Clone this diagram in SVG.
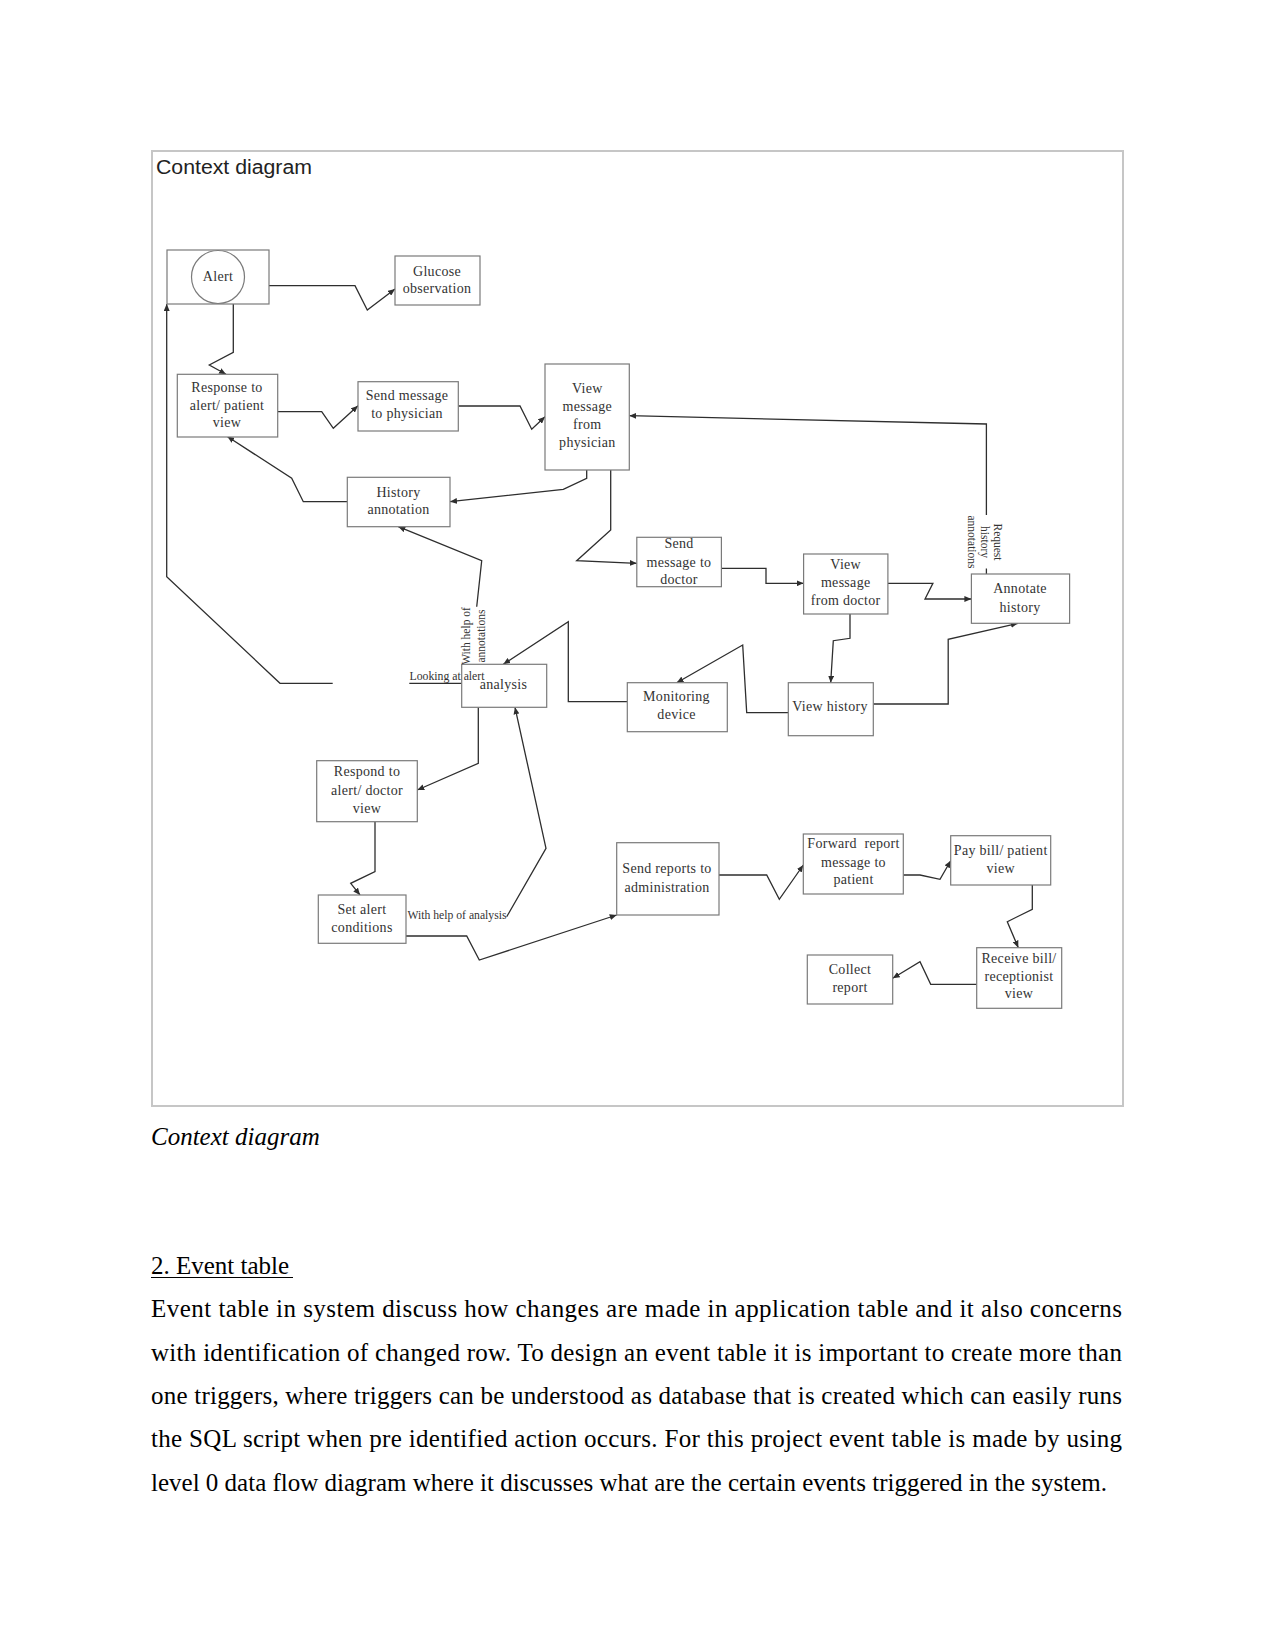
<svg xmlns="http://www.w3.org/2000/svg" width="1275" height="1650" viewBox="0 0 1275 1650">
<style>
.box{fill:#fff;stroke:#7a7a7a;stroke-width:1.2}
.c{fill:none;stroke:#2e2e2e;stroke-width:1.3}
.n{font-family:"Liberation Serif",serif;font-size:14px;letter-spacing:0.3px;fill:#333;text-anchor:middle}
.l{font-family:"Liberation Serif",serif;font-size:11.5px;fill:#333}
.b{font-family:"Liberation Serif",serif;font-size:25px;fill:#000}
</style>
<defs>
<marker id="ah" markerUnits="userSpaceOnUse" markerWidth="8" markerHeight="6" refX="7" refY="3" orient="auto">
<path d="M0,0 L7,3 L0,6 z" fill="#2e2e2e"/>
</marker>
</defs>
<rect x="0" y="0" width="1275" height="1650" fill="#fff"/>
<rect x="152" y="151" width="971" height="955" fill="none" stroke="#c6c6c6" stroke-width="2"/>
<text x="156" y="174" font-family="'Liberation Sans',sans-serif" font-size="20" fill="#222" textLength="156" lengthAdjust="spacingAndGlyphs">Context diagram</text>

<g id="connectors">
<path class="c" d="M269,285.7 L355,285.7 L367.3,310 L395,289" marker-end="url(#ah)"/>
<path class="c" d="M233.3,304 L233.3,352.3 L209.3,365 L226,374.3" marker-end="url(#ah)"/>
<path class="c" d="M277.7,411.7 L321.7,411.7 L333.3,428.3 L358,405.7" marker-end="url(#ah)"/>
<path class="c" d="M458.3,406 L520,406 L531.7,429.3 L545,416.7" marker-end="url(#ah)"/>
<path class="c" d="M586.7,470 L586.7,478.3 L563.3,489.3 L450,501.7" marker-end="url(#ah)"/>
<path class="c" d="M347.3,501.7 L303.3,501.7 L291.7,478.3 L227.3,436.5" marker-end="url(#ah)"/>
<path class="c" d="M610.7,470 L610.7,530 L576.7,560.7 L636.8,563.3" marker-end="url(#ah)"/>
<path class="c" d="M721.4,568.3 L766,568.3 L766,583.3 L803.6,583.3" marker-end="url(#ah)"/>
<path class="c" d="M887.9,583.3 L932.9,583.3 L925,599 L971.4,599" marker-end="url(#ah)"/>
<path class="c" d="M986.4,574 L986.4,568.5"/>
<path class="c" d="M986.4,515 L986.4,424 L629.3,415.7" marker-end="url(#ah)"/>
<path class="c" d="M850,614 L850,638.3 L833.3,640.7 L830.7,682.7" marker-end="url(#ah)"/>
<path class="c" d="M873.3,704 L948.2,704 L948.2,639.3 L1017.9,623.3" marker-end="url(#ah)"/>
<path class="c" d="M788.3,712.7 L746.7,712.7 L742.7,645 L676.7,682.7" marker-end="url(#ah)"/>
<path class="c" d="M627.3,701.7 L568.3,701.7 L568.3,621.7 L503.3,664.3" marker-end="url(#ah)"/>
<path class="c" d="M476.7,606.7 L481.7,560.7 L398.3,526.7" marker-end="url(#ah)"/>
<path class="c" d="M461.7,683.3 L409.3,683.3"/>
<path class="c" d="M332.7,683.3 L280,683.3 L166.7,576.7 L166.7,304" marker-end="url(#ah)"/>
<path class="c" d="M478.3,707.3 L478.3,763.3 L417.3,790" marker-end="url(#ah)"/>
<path class="c" d="M375,821.7 L375,871.7 L350.7,883.3 L360,895" marker-end="url(#ah)"/>
<path class="c" d="M506.7,916.7 L546,848.3 L515,707.3" marker-end="url(#ah)"/>
<path class="c" d="M406,936 L466.7,936 L479.3,960 L616.7,915" marker-end="url(#ah)"/>
<path class="c" d="M719,875 L766.7,875 L779.3,899.3 L803.3,865" marker-end="url(#ah)"/>
<path class="c" d="M903.3,875 L920,875 L940,879.3 L950.7,860.7" marker-end="url(#ah)"/>
<path class="c" d="M1032.3,885 L1032.3,909.3 L1007.3,921.7 L1018.3,947.7" marker-end="url(#ah)"/>
<path class="c" d="M976.7,984.3 L930.7,984.3 L920,961.7 L892.7,978.3" marker-end="url(#ah)"/>
</g>

<g id="alert">
<rect class="box" x="167" y="250" width="102" height="54"/>
<circle cx="218" cy="277" r="26.5" fill="#fff" stroke="#7a7a7a" stroke-width="1.2"/>
<text class="n" x="218" y="281">Alert</text>
</g>
<g id="glucose-observation">
<rect class="box" x="395" y="256" width="85" height="49"/>
<text class="n" x="437" y="275.7">Glucose</text>
<text class="n" x="437" y="293.3">observation</text>
</g>
<g id="response-patient">
<rect class="box" x="177.3" y="374.3" width="100.4" height="62.7"/>
<text class="n" x="227" y="391.7">Response to</text>
<text class="n" x="227" y="410">alert/ patient</text>
<text class="n" x="227" y="426.7">view</text>
</g>
<g id="send-message-physician">
<rect class="box" x="358" y="381.7" width="100.3" height="49.3"/>
<text class="n" x="407" y="400">Send message</text>
<text class="n" x="407" y="417.7">to physician</text>
</g>
<g id="view-message-physician">
<rect class="box" x="545" y="364" width="84.3" height="106"/>
<text class="n" x="587.3" y="392.7">View</text>
<text class="n" x="587.3" y="411">message</text>
<text class="n" x="587.3" y="429.3">from</text>
<text class="n" x="587.3" y="447.3">physician</text>
</g>
<g id="history-annotation">
<rect class="box" x="347.3" y="477.3" width="102.7" height="49.4"/>
<text class="n" x="398.5" y="496.7">History</text>
<text class="n" x="398.5" y="514">annotation</text>
</g>
<g id="send-message-doctor">
<rect class="box" x="636.8" y="537.3" width="84.6" height="49.4"/>
<text class="n" x="679" y="548.3">Send</text>
<text class="n" x="679" y="566.7">message to</text>
<text class="n" x="679" y="584.3">doctor</text>
</g>
<g id="view-message-doctor">
<rect class="box" x="803.6" y="554" width="84.3" height="60"/>
<text class="n" x="845.7" y="569.3">View</text>
<text class="n" x="845.7" y="587.3">message</text>
<text class="n" x="845.7" y="605">from doctor</text>
</g>
<g id="annotate-history">
<rect class="box" x="971.4" y="574" width="98.2" height="49.3"/>
<text class="n" x="1020" y="593.3">Annotate</text>
<text class="n" x="1020" y="612.3">history</text>
</g>
<g id="analysis">
<rect class="box" x="461.7" y="664.3" width="85" height="43"/>
<text class="n" x="503.5" y="689.3">analysis</text>
</g>
<g id="monitoring-device">
<rect class="box" x="627.3" y="682.7" width="100" height="49"/>
<text class="n" x="676.5" y="700.7">Monitoring</text>
<text class="n" x="676.5" y="719.3">device</text>
</g>
<g id="view-history">
<rect class="box" x="788.3" y="682.7" width="85" height="53"/>
<text class="n" x="830" y="710.7">View history</text>
</g>
<g id="respond-doctor">
<rect class="box" x="316.7" y="760.7" width="100.6" height="61"/>
<text class="n" x="367" y="776">Respond to</text>
<text class="n" x="367" y="795">alert/ doctor</text>
<text class="n" x="367" y="812.7">view</text>
</g>
<g id="set-alert-conditions">
<rect class="box" x="318.3" y="895" width="87.7" height="48.3"/>
<text class="n" x="362" y="914">Set alert</text>
<text class="n" x="362" y="931.7">conditions</text>
</g>
<g id="send-reports">
<rect class="box" x="616.7" y="842.7" width="102.3" height="72.3"/>
<text class="n" x="667" y="872.7">Send reports to</text>
<text class="n" x="667" y="891.7">administration</text>
</g>
<g id="forward-report">
<rect class="box" x="803.3" y="834" width="100" height="60"/>
<text class="n" x="853.5" y="848.3">Forward&#160; report</text>
<text class="n" x="853.5" y="866.7">message to</text>
<text class="n" x="853.5" y="884.3">patient</text>
</g>
<g id="pay-bill">
<rect class="box" x="950.7" y="835.7" width="100" height="49.3"/>
<text class="n" x="1000.7" y="855">Pay bill/ patient</text>
<text class="n" x="1000.7" y="872.7">view</text>
</g>
<g id="receive-bill">
<rect class="box" x="976.7" y="947.7" width="85" height="60.6"/>
<text class="n" x="1019" y="962.7">Receive bill/</text>
<text class="n" x="1019" y="980.7">receptionist</text>
<text class="n" x="1019" y="998.3">view</text>
</g>
<g id="collect-report">
<rect class="box" x="807.3" y="955" width="85.4" height="49"/>
<text class="n" x="850" y="974">Collect</text>
<text class="n" x="850" y="991.7">report</text>
</g>

<g id="connector-labels">
<text class="l" x="409.5" y="679.5" textLength="75" lengthAdjust="spacingAndGlyphs">Looking at alert</text>
<text class="l" x="407.5" y="919" textLength="99" lengthAdjust="spacingAndGlyphs">With help of analysis</text>
<text class="l" text-anchor="middle" transform="translate(470,636) rotate(-90)"><tspan x="0" y="0">With help of</tspan><tspan x="0" y="15">annotations</tspan></text>
<text class="l" text-anchor="middle" transform="translate(994,542) rotate(90)"><tspan x="0" y="0">Request</tspan><tspan x="0" y="13">history</tspan><tspan x="0" y="26">annotations</tspan></text>
</g>

<text class="b" x="151" y="1145" font-style="italic">Context diagram</text>
<text class="b" x="151" y="1274.3">2. Event table </text>
<line x1="151" y1="1277.5" x2="293" y2="1277.5" stroke="#000" stroke-width="1.2"/>
<text class="b" x="151" y="1317.3" textLength="971" lengthAdjust="spacing">Event table in system discuss how changes are made in application table and it also concerns</text>
<text class="b" x="151" y="1360.7" textLength="971" lengthAdjust="spacing">with identification of changed row. To design an event table it is important to create more than</text>
<text class="b" x="151" y="1404" textLength="971" lengthAdjust="spacing">one triggers, where triggers can be understood as database that is created which can easily runs</text>
<text class="b" x="151" y="1447.3" textLength="971" lengthAdjust="spacing">the SQL script when pre identified action occurs. For this project event table is made by using</text>
<text class="b" x="151" y="1490.7">level 0 data flow diagram where it discusses what are the certain events triggered in the system.</text>
</svg>
